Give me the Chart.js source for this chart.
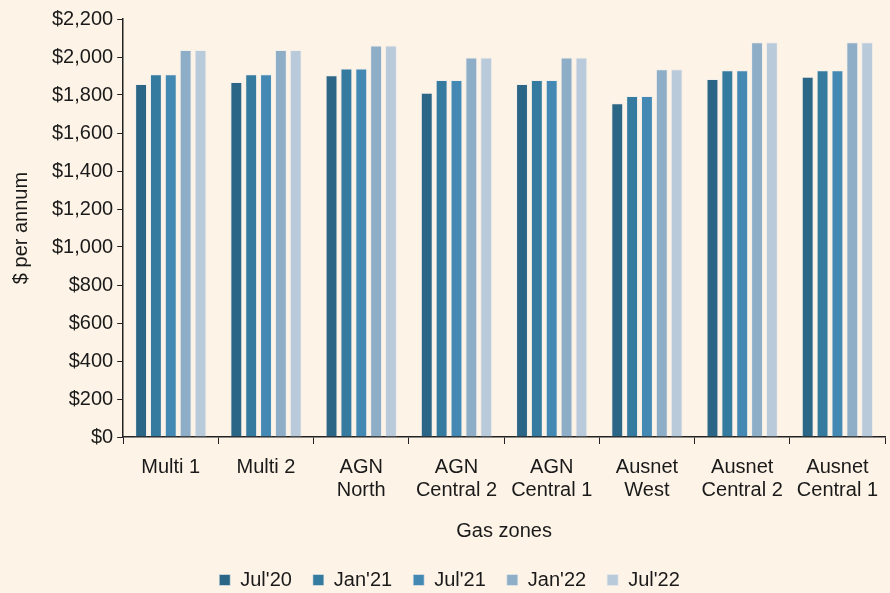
<!DOCTYPE html>
<html>
<head>
<meta charset="utf-8">
<script src="https://cdn.jsdelivr.net/npm/chart.js@4.4.1/dist/chart.umd.min.js"></script>
<style>
    html, body { margin: 0; padding: 0; background: #fdf3e7; }
    #wrap { width: 890px; height: 593px; position: relative; }
</style>
</head>
<body>
<div id="wrap"><canvas id="chart"></canvas></div>
<script>
// Gas zones (x categories)
const zones = [
    ['Multi 1'], ['Multi 2'], ['AGN', 'North'], ['AGN', 'Central 2'],
    ['AGN', 'Central 1'], ['Ausnet', 'West'], ['Ausnet', 'Central 2'], ['Ausnet', 'Central 1']
];

// Annual bill by period, $ per annum
const jul20 = [1858, 1868, 1904, 1812, 1858, 1756, 1884, 1896];
const jan21 = [1909, 1909, 1940, 1879, 1879, 1795, 1930, 1930];
const jul21 = [1909, 1909, 1940, 1879, 1879, 1795, 1930, 1930];
const jan22 = [2037, 2037, 2060, 1998, 1998, 1935, 2077, 2077];
const jul22 = [2037, 2037, 2060, 1998, 1998, 1935, 2077, 2077];

const periods = ["Jul'20", "Jan'21", "Jul'21", "Jan'22", "Jul'22"];
const colours = ['#2b6687', '#357a9f', '#4389b4', '#8eaec8', '#b9cadb'];

const yTicks = [0, 200, 400, 600, 800, 1000, 1200, 1400, 1600, 1800, 2000, 2200];

const fontFamily = '"Liberation Sans", Arial, sans-serif';
const fontSize = 20;
const ink = '#1a1a1a';

const datasets = [jul20, jan21, jul21, jan22, jul22].map((values, i) => ({
    label: periods[i],
    data: values,
    backgroundColor: colours[i],
    borderColor: 'rgba(235, 235, 235, 0.6)',
    borderWidth: 1,
    categoryPercentage: 0.78,
    barPercentage: 0.8
}));

new Chart(document.getElementById('chart'), {
    type: 'bar',
    data: { labels: zones, datasets: datasets },
    options: {
        responsive: true,
        maintainAspectRatio: false,
        animation: false,
        // negative bottom padding pushes the legend down towards the edge
        layout: { padding: { top: 19, right: 0, left: 9, bottom: -7 } },
        plugins: {
            tooltip: { enabled: false },
            legend: {
                position: 'bottom',
                labels: {
                    boxWidth: 11,
                    boxHeight: 11,
                    padding: 21,
                    color: ink,
                    font: { family: fontFamily, size: fontSize }
                }
            }
        },
        scales: {
            x: {
                offset: true,
                border: { display: true, color: '#222', width: 1.5 },
                grid: {
                    offset: true,
                    drawOnChartArea: false,
                    drawTicks: true,
                    tickLength: 7,
                    color: '#222'
                },
                ticks: {
                    color: ink,
                    maxRotation: 0,
                    autoSkip: false,
                    padding: 12,
                    font: { family: fontFamily, size: fontSize, lineHeight: 1.15 }
                },
                title: {
                    display: true,
                    text: 'Gas zones',
                    color: ink,
                    padding: { top: 5, bottom: 6 },
                    font: { family: fontFamily, size: fontSize }
                }
            },
            y: {
                min: 0,
                max: 2200,
                afterBuildTicks: axis => {
                    axis.ticks = yTicks.map(v => ({ value: v }));
                },
                border: { display: true, color: '#222', width: 1.5 },
                grid: {
                    drawOnChartArea: false,
                    drawTicks: true,
                    tickLength: 6,
                    color: '#222'
                },
                ticks: {
                    color: ink,
                    padding: 4,
                    font: { family: fontFamily, size: fontSize },
                    callback: v => '$' + v.toLocaleString('en-US')
                },
                title: {
                    display: true,
                    text: '$ per annum',
                    color: ink,
                    padding: { top: 0, bottom: 15 },
                    font: { family: fontFamily, size: fontSize }
                }
            }
        }
    }
});
</script>
</body>
</html>
